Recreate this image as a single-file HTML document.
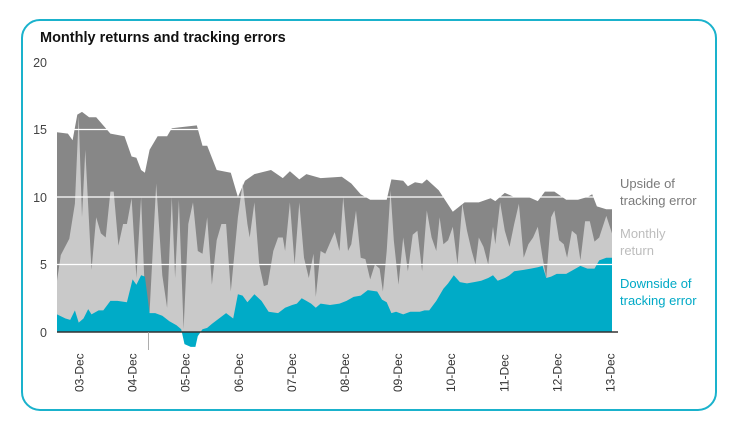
<!DOCTYPE html>
<html><head><meta charset="utf-8"><style>
html,body{margin:0;padding:0;background:#fff;}
svg{display:block;font-family:"Liberation Sans",sans-serif;}
</style></head><body>
<svg id="s" width="741" height="428" xmlns="http://www.w3.org/2000/svg">
<rect x="22" y="20" width="694" height="390" rx="18" ry="18" fill="#fff" stroke="#1ab2cc" stroke-width="2"/>
<text x="40" y="42" font-size="14.5" font-weight="bold" fill="#111">Monthly returns and tracking errors</text>
<g font-size="12.5" fill="#444" text-anchor="end">
<text x="47" y="67">20</text><text x="47" y="134">15</text><text x="47" y="202">10</text><text x="47" y="269">5</text><text x="47" y="337">0</text>
</g>
<g id="areas"></g>
<g font-size="13" >
<text x="620" y="188" fill="#7a7a7a">Upside of</text>
<text x="620" y="205" fill="#7a7a7a">tracking error</text>
<text x="620" y="238" fill="#bdbdbd">Monthly</text>
<text x="620" y="255" fill="#bdbdbd">return</text>
<text x="620" y="288" fill="#00a9c6">Downside of</text>
<text x="620" y="305" fill="#00a9c6">tracking error</text>
</g>
<g id="xl" font-size="12" fill="#333"></g>
</svg>
<script>
var U=[122,14.8,145,14.7,155,14.2,165,16.1,175,16.3,190,15.9,205,15.9,235,14.7,265,14.5,280,13.0,290,12.9,300,12.0,308,11.8,318,13.5,335,14.5,355,14.5,365,15.1,418,15.3,430,13.8,440,13.8,460,12.0,490,11.8,505,10.0,520,11.2,540,11.7,575,12.0,600,11.4,615,11.9,635,11.3,650,11.7,680,11.4,725,11.5,745,11.0,765,10.2,785,9.8,820,9.8,830,11.3,855,11.2,865,10.8,880,11.1,895,11.0,905,11.3,930,10.5,960,8.9,985,9.6,1015,9.6,1040,9.9,1050,9.7,1070,10.3,1090,10.0,1120,10.0,1140,9.7,1155,10.4,1175,10.4,1200,9.8,1225,9.8,1245,10.0,1255,10.2,1265,9.3,1285,9.1,1297,9.1];
var M=[122,3.8,130,5.7,148,6.9,160,9.5,168,16.0,175,8.5,182,13.5,195,4.6,205,8.5,215,7.3,225,7.0,235,10.4,242,10.4,252,6.4,262,8.0,270,8.0,280,9.9,290,4.0,300,10.0,310,1.0,318,1.5,332,11.0,345,4.2,355,1.8,365,10.0,372,4.0,380,9.8,390,0.2,400,8.0,410,9.6,420,6.0,430,5.8,440,8.5,450,3.5,460,6.8,470,8.0,480,8.0,490,3.0,505,8.5,515,11.0,525,8.0,530,7.0,540,9.6,550,5.0,560,3.4,568,3.5,580,6.0,590,7.0,600,7.0,605,6.0,615,9.6,625,5.0,635,9.6,645,5.5,655,4.0,665,5.8,670,2.6,680,6.0,690,5.8,700,6.6,710,7.4,720,6.0,728,10.0,738,6.0,745,6.5,755,9.0,765,5.5,775,5.4,785,3.9,795,5.0,805,4.7,812,3.0,820,6.0,828,10.5,835,6.8,845,3.5,855,7.0,865,4.5,875,7.2,885,7.5,895,4.5,905,9.0,915,7.0,925,6.0,932,8.5,940,6.5,950,6.8,960,7.8,970,5.0,980,9.5,990,7.5,1000,6.0,1008,5.0,1015,7.0,1025,6.3,1035,5.0,1045,7.8,1050,6.5,1060,9.6,1070,7.5,1080,6.3,1090,8.0,1100,9.5,1110,5.5,1120,6.5,1130,7.0,1140,7.8,1150,5.5,1158,4.0,1168,8.5,1175,9.0,1185,6.8,1195,6.5,1202,5.5,1212,7.5,1222,7.2,1230,5.3,1240,8.2,1250,8.2,1260,6.7,1270,7.0,1285,8.6,1297,7.3];
var L=[122,1.3,140,1.0,150,0.9,160,1.6,168,0.7,178,1.0,188,1.7,195,1.3,210,1.6,220,1.6,235,2.3,250,2.3,270,2.2,282,3.9,290,3.5,300,4.2,308,4.1,318,1.4,330,1.4,345,1.2,360,0.8,375,0.5,385,0.2,392,-0.9,405,-1.1,415,-1.1,420,-0.3,430,0.2,440,0.3,450,0.6,465,1.0,480,1.4,495,1.0,505,2.8,515,2.7,525,2.2,540,2.8,555,2.3,570,1.5,590,1.4,605,1.8,620,2.0,630,2.1,640,2.5,650,2.3,660,2.1,670,1.8,680,2.1,700,2.0,720,2.1,735,2.3,750,2.6,765,2.7,780,3.1,800,3.0,810,2.4,820,2.2,830,1.4,840,1.5,855,1.3,870,1.5,890,1.5,900,1.6,910,1.6,925,2.3,940,3.2,950,3.6,962,4.2,975,3.7,990,3.6,1005,3.7,1020,3.8,1035,4.0,1045,4.2,1055,3.8,1070,4.0,1080,4.2,1090,4.5,1110,4.6,1125,4.7,1140,4.8,1150,4.9,1158,4.0,1168,4.1,1180,4.3,1200,4.3,1215,4.6,1230,4.9,1245,4.7,1260,4.7,1270,5.3,1285,5.5,1297,5.5];
function X(z){return 57+(z-122)*(555/1175);}
function Y(v){return 332-v*13.5;}
function poly(a,col){var p=[];for(var i=0;i<a.length;i+=2)p.push(X(a[i]).toFixed(1)+','+Y(a[i+1]).toFixed(1));
p.push(X(a[a.length-2]).toFixed(1)+',332');p.push(X(a[0]).toFixed(1)+',332');
return '<polygon points="'+p.join(' ')+'" fill="'+col+'"/>';}
var g='';
g+=poly(U,'#878787');g+=poly(M,'#c9c9c9');g+=poly(L,'#00abc7');
[5,10,15].forEach(function(v){g+='<line x1="57" x2="618" y1="'+Y(v)+'" y2="'+Y(v)+'" stroke="#fff" stroke-width="1.3"/>';});
g+='<line x1="57" x2="618" y1="332" y2="332" stroke="#333" stroke-width="1.5"/>';
g+='<line x1="148.5" x2="148.5" y1="332" y2="350" stroke="#999" stroke-width="0.8"/>';
document.getElementById('areas').innerHTML=g;
var lab=['03','04','05','06','07','08','09','10','11','12','13'],h='';
for(var i=0;i<11;i++){var x=83.5+i*53.1;h+='<text transform="translate('+x.toFixed(1)+',392) rotate(-90)">'+lab[i]+'-Dec</text>';}
document.getElementById('xl').innerHTML=h;
</script>
</body></html>
